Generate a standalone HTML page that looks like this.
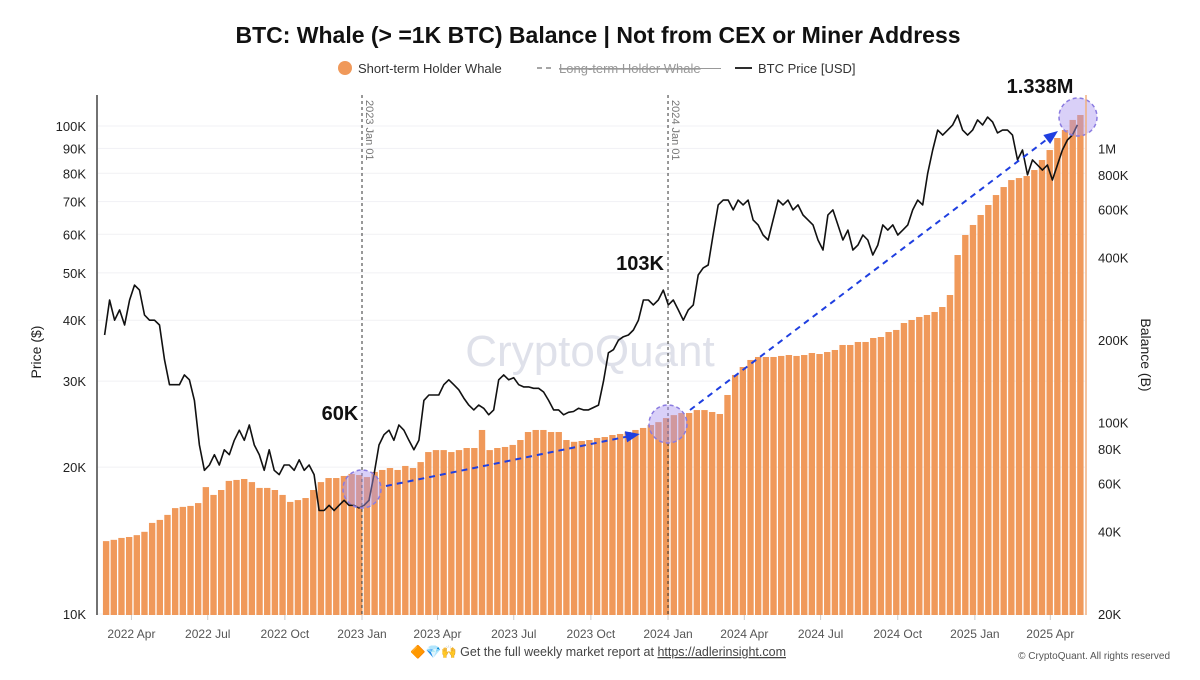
<!DOCTYPE html>
<html><head><meta charset="utf-8">
<style>
body{margin:0;background:#fff;width:1200px;height:675px;overflow:hidden;font-family:"Liberation Sans",sans-serif;}
svg text{font-family:"Liberation Sans","Noto Sans CJK SC",sans-serif;}
</style></head>
<body>
<svg id="chart" width="1200" height="675" viewBox="0 0 1200 675">
<text x="598" y="43" text-anchor="middle" font-size="23" font-weight="bold" fill="#111">BTC: Whale (&gt; =1K BTC) Balance | Not from CEX or Miner Address</text>
<g>
 <g><circle cx="345" cy="68" r="7" fill="#f0995a"/><text x="358" y="73" font-size="13" fill="#333">Short-term Holder Whale</text></g>
 <g><line x1="537" y1="68" x2="555" y2="68" stroke="#888" stroke-dasharray="5,4" stroke-width="1.5"/><text x="559" y="73" font-size="13" fill="#999" text-decoration="line-through">Long-term Holder Whale</text><line x1="559" y1="68.5" x2="721" y2="68.5" stroke="#999" stroke-width="1"/></g>
 <g><line x1="735" y1="68" x2="752" y2="68" stroke="#111" stroke-width="1.8"/><text x="758" y="73" font-size="13" fill="#333">BTC Price [USD]</text></g>
</g>
<text x="590" y="366" text-anchor="middle" font-size="44" fill="#dfe1ea">CryptoQuant</text>
<g id="grid"></g>
<g id="bars"></g>
<g id="price"></g>
<g id="overlay"></g>
<g id="axes"></g>
<text transform="translate(41,352) rotate(-90)" text-anchor="middle" font-size="14" fill="#222">Price ($)</text>
<text transform="translate(1141,355) rotate(90)" text-anchor="middle" font-size="14" fill="#222">Balance (B)</text>
<text x="598" y="656" text-anchor="middle" font-size="12.5" fill="#444">🔶💎🙌 Get the full weekly market report at <tspan text-decoration="underline">https://adlerinsight.com</tspan></text>
<text x="1170" y="659" text-anchor="end" font-size="10" fill="#555">© CryptoQuant. All rights reserved</text>
</svg>
<script>
// ---- data ----
const balanceStart = "2022-02-26";
const balanceStepDays = 9.15;
const balanceK = [36.9,37.3,37.9,38.2,38.8,39.9,43.0,44.1,46.0,48.7,49.2,49.6,50.8,58.1,54.4,56.7,61.2,61.7,62.2,60.6,57.7,57.7,56.7,54.4,51.3,52.1,53.0,56.7,60.6,62.7,62.7,63.8,64.9,64.3,63.2,66.0,67.1,68.2,67.1,69.4,68.2,71.7,78.0,79.3,79.3,78.0,79.3,80.7,80.7,93.9,79.3,80.7,81.4,82.8,86.3,92.3,93.9,93.9,92.3,92.3,86.3,85.0,85.6,86.3,87.8,88.5,90.0,90.8,92.3,93.9,95.5,97.9,100.3,103.8,106.4,108.3,108.3,111.0,111.0,109.2,107.4,126.0,149.1,159.4,169.1,173.4,173.4,173.4,174.9,176.3,174.9,176.3,179.3,177.8,180.8,183.9,191.8,191.8,196.7,196.7,203.4,205.1,213.9,217.6,230.7,236.6,242.7,246.8,253.1,263.9,291.9,408.5,483.3,525.8,571.8,621.9,676.2,723.2,767.0,780.0,793.4,834.4,907.6,987.1,1092,1168,1271,1325];
const priceStart = "2022-02-28";
const priceStepDays = 5.95;
const priceK = [37.3,44.0,40.0,42.0,39.1,44.0,47.2,46.1,41.0,40.0,40.0,39.1,33.2,29.5,29.5,29.5,30.9,30.2,27.4,22.2,19.7,20.2,21.2,20.2,21.7,21.2,22.7,23.8,22.7,24.4,22.2,21.2,19.7,21.7,19.7,19.3,20.2,20.2,19.7,20.7,19.7,20.2,19.3,16.3,16.3,16.7,16.3,16.7,17.1,16.7,16.7,16.5,16.7,17.1,19.3,22.2,23.3,23.8,22.7,24.4,23.8,22.7,21.7,22.7,27.4,28.1,28.1,28.1,29.5,30.2,29.5,28.8,27.7,26.8,26.2,26.8,26.4,25.6,26.2,30.2,30.9,30.2,30.5,29.5,29.2,29.2,29.0,29.0,28.5,27.4,26.2,26.2,25.6,25.9,26.0,26.4,26.2,26.2,26.5,26.8,30.0,34.3,34.8,36.4,37.0,37.3,38.2,40.0,44.0,44.0,43.0,44.0,46.1,43.0,44.0,42.0,40.0,42.0,43.0,49.5,51.2,51.9,60.0,68.9,70.5,70.5,67.3,70.5,68.9,70.5,64.2,62.7,59.8,58.4,64.2,70.5,68.9,70.5,67.3,68.9,65.7,64.2,62.7,58.4,55.7,65.7,67.3,62.7,58.4,61.2,55.7,57.0,59.8,58.4,54.4,57.0,62.7,61.2,62.7,59.8,61.2,62.7,67.3,70.5,68.9,80.0,89.3,98.1,95.8,98.1,100.5,105.3,98.1,95.8,98.1,102.9,100.5,104.3,101.9,96.8,98.1,98.1,95.8,85.2,89.3,79.4,85.2,83.2,81.2,83.2,77.5,83.2,89.3,93.6,95.8,100.5];
const priceTicks = [10,20,30,40,50,60,70,80,90,100];
const balanceTicks = [20,40,60,80,100,200,400,600,800,1000];
const balanceTickLabels = ["20K","40K","60K","80K","100K","200K","400K","600K","800K","1M"];
const xTicks = ["2022-04-01","2022-07-01","2022-10-01","2023-01-01","2023-04-01","2023-07-01","2023-10-01","2024-01-01","2024-04-01","2024-07-01","2024-10-01","2025-01-01","2025-04-01"];
const xTickLabels = ["2022 Apr","2022 Jul","2022 Oct","2023 Jan","2023 Apr","2023 Jul","2023 Oct","2024 Jan","2024 Apr","2024 Jul","2024 Oct","2025 Jan","2025 Apr"];
const markerDates = ["2023-01-01","2024-01-01"];
const markerLabels = ["2023 Jan 01","2024 Jan 01"];

// ---- scales ----
const NS="http://www.w3.org/2000/svg";
const T0 = Date.parse("2023-01-01");
const DAY = 86400000;
function xDate(d){ return 362 + (Date.parse(d)-T0)/DAY*0.8384; }
function xDays(start, n){ return 362 + (Date.parse(start)-T0)/DAY*0.8384 + n*0.8384; }
function yPrice(k){ return 614 - Math.log10(k/10)*488; }
function yBal(k){ return 614 - Math.log10(k/20)*274; }
function mk(tag, attrs, parent){ const e=document.createElementNS(NS,tag); for(const a in attrs) e.setAttribute(a,attrs[a]); parent.appendChild(e); return e; }

const grid=document.getElementById('grid'), bars=document.getElementById('bars'), price=document.getElementById('price'), overlay=document.getElementById('overlay'), axes=document.getElementById('axes');

priceTicks.forEach(function(t){
  const y=yPrice(t);
  const g=mk('line',{x1:98,x2:1085,y1:y,y2:y,stroke:'#f1f1f4','stroke-width':1},grid);
  
  
  const tx=mk('text',{x:86,y:y+5,'text-anchor':'end','font-size':13,fill:'#222'},axes);
  tx.textContent=t+'K';
  
  
});
balanceTicks.forEach(function(t,i){
  const y=yBal(t);
  const tx=mk('text',{x:1098,y:y+5,'font-size':13,fill:'#222'},axes);
  tx.textContent=balanceTickLabels[i];
  
  
});
xTicks.forEach(function(d,i){
  const x=xDate(d);
  const tx=mk('text',{x:x,y:638,'text-anchor':'middle','font-size':12,fill:'#555'},axes);
  tx.textContent=xTickLabels[i];
  
  
  const tk=mk('line',{x1:x,x2:x,y1:615,y2:620,stroke:'#ccc'},axes);
  
  
});

const bw = balanceStepDays*0.8384;
balanceK.forEach(function(v,i){
  const x=xDays(balanceStart, i*balanceStepDays);
  const y=yBal(v);
  const r=mk('rect',{x:x,y:y,width:bw-1.3,height:615-y,fill:'#f0995a'},bars);
  
  
});

let pts=priceK.map(function(v,i){ return xDays(priceStart,i*priceStepDays).toFixed(1)+','+yPrice(v).toFixed(1); }).join(' ');
const pl=mk('polyline',{points:pts,fill:'none',stroke:'#111','stroke-width':1.6,'stroke-linejoin':'round'},price);



markerDates.forEach(function(d,i){
  const x=xDate(d);
  const l=mk('line',{x1:x,x2:x,y1:95,y2:615,stroke:'#333','stroke-dasharray':'3,3','stroke-width':1},overlay);
  
  
  const t=mk('text',{transform:'translate('+(x+4)+',100) rotate(90)','font-size':11,fill:'#777'},overlay);
  t.textContent=markerLabels[i];
  
  
});

function circ(cx,cy,name){ const c=mk('circle',{cx:cx,cy:cy,r:19,fill:'rgba(170,150,240,0.45)',stroke:'#8a7be0','stroke-dasharray':'4,3','stroke-width':1.5},overlay);   }
circ(362,489,'highlight-circle-2023');
circ(668,424,'highlight-circle-2024');
circ(1078,117,'highlight-circle-2025');
function arrow(x1,y1,x2,y2,name){
  const l=mk('line',{x1:x1,y1:y1,x2:x2,y2:y2,stroke:'#1f3fe0','stroke-width':2,'stroke-dasharray':'6,5'},overlay);
  
  
  const a=Math.atan2(y2-y1,x2-x1), s=10;
  const p=[[x2+Math.cos(a)*s,y2+Math.sin(a)*s],[x2+Math.cos(a+2.2)*7,y2+Math.sin(a+2.2)*7],[x2+Math.cos(a-2.2)*7,y2+Math.sin(a-2.2)*7]];
  const h=mk('polygon',{points:p.map(q=>q.join(',')).join(' '),fill:'#1f3fe0'},overlay);
  
  
}
arrow(386,486,630,436,'trend-arrow-1');
arrow(690,410,1050,137,'trend-arrow-2');
function lab(x,y,t,name){ const e=mk('text',{x:x,y:y,'font-size':20,'font-weight':'bold',fill:'#111','text-anchor':'middle'},overlay); e.textContent=t;   }
lab(340,420,'60K','annotation-60k');
lab(640,270,'103K','annotation-103k');
lab(1040,93,'1.338M','annotation-1338m');

const al=mk('line',{x1:97,x2:97,y1:95,y2:615,stroke:'#444','stroke-width':1.5},axes);


const ar=mk('line',{x1:1086,x2:1086,y1:95,y2:615,stroke:'#f0b080','stroke-width':1.5},axes);


</script>
</body></html>
